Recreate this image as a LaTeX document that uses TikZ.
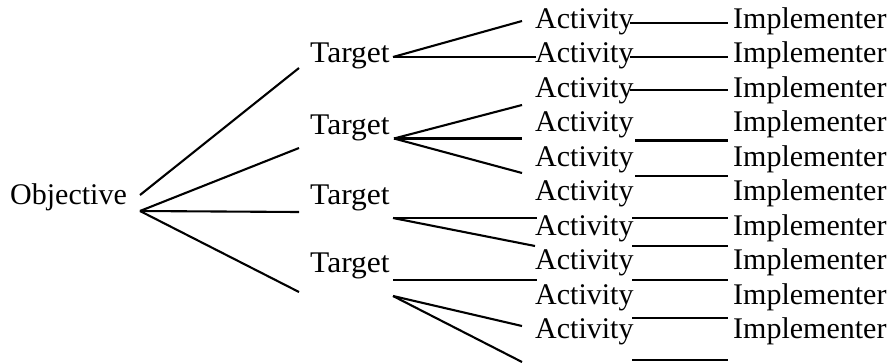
\documentclass[tikz,border=0pt]{standalone}
\usepackage{fontspec}
\usepackage{graphicx}
\setmainfont{Liberation Serif}
\begin{document}
\begin{tikzpicture}[x=1pt,y=-1pt,
  lbl/.style={anchor=base west,inner sep=0pt,font=\fontsize{30}{32}\selectfont},
  ln/.style={line width=2.1pt}]
\useasboundingbox (0,0) rectangle (896,362);
% text
\node[lbl] (obj) at (10,204) {Objective};
\node[lbl] (t1) at (310,62) {\scalebox{1.05}[1]{Target}};
\node[lbl] (t2) at (310,134.5) {\scalebox{1.05}[1]{Target}};
\node[lbl] (t3) at (310,204) {\scalebox{1.05}[1]{Target}};
\node[lbl] (t4) at (310,272.5) {\scalebox{1.05}[1]{Target}};
\foreach \i/\b in {1/28,2/62.5,3/97,4/131.5,5/166,6/200.5,7/235,8/269.5,9/304,10/338.5}{
  \node[lbl] (a\i) at (535,\b) {Activity};
  \node[lbl] (im\i) at (733,\b) {Implementer};
}
% objective connectors
\coordinate (os) at (140,195);
\coordinate (ov) at (140,211);
\coordinate (ot1) at (299,68);
\coordinate (ot2) at (299,148);
\coordinate (ot3) at (299,212);
\coordinate (ot4) at (299,292);
\draw[ln] (os) -- (ot1);
\draw[ln] (ov) -- (ot2);
\draw[ln] (ov) -- (ot3);
\draw[ln] (ov) -- (ot4);
% target 1
\coordinate (v1) at (393,57);
\coordinate (e11) at (522,21);
\coordinate (e12) at (536,57);
\draw[ln] (v1) -- (e11);
\draw[ln] (v1) -- (e12);
% target 2
\coordinate (v2) at (394,138.5);
\coordinate (e21) at (522,105);
\coordinate (e22) at (522,138.5);
\coordinate (e23) at (522,173);
\draw[ln] (v2) -- (e21);
\draw[ln] (v2) -- (e22);
\draw[ln] (v2) -- (e23);
% target 3
\coordinate (v3) at (393,218);
\coordinate (e31) at (537,218);
\coordinate (e32) at (535,246);
\draw[ln] (v3) -- (e31);
\draw[ln] (v3) -- (e32);
% target 4
\coordinate (v4a) at (393,280);
\coordinate (v4b) at (393,296);
\coordinate (e41) at (537,280);
\coordinate (e42) at (522,326);
\coordinate (e43) at (522,362);
\draw[ln] (v4a) -- (e41);
\draw[ln] (v4b) -- (e42);
\draw[ln] (v4b) -- (e43);
% activity -> implementer connectors
\foreach \n/\xa/\y in {r1/630/23, r2/630/57, r3/630/90, r4/635/140.5, r5/635/176,
  r7a/632/218, r7b/632/246, r8/632/280, r10/632/318, r11/632/360}{
  \coordinate (\n s) at (\xa,\y);
  \coordinate (\n e) at (728,\y);
  \draw[ln] (\n s) -- (\n e);
}
\end{tikzpicture}
\end{document}
